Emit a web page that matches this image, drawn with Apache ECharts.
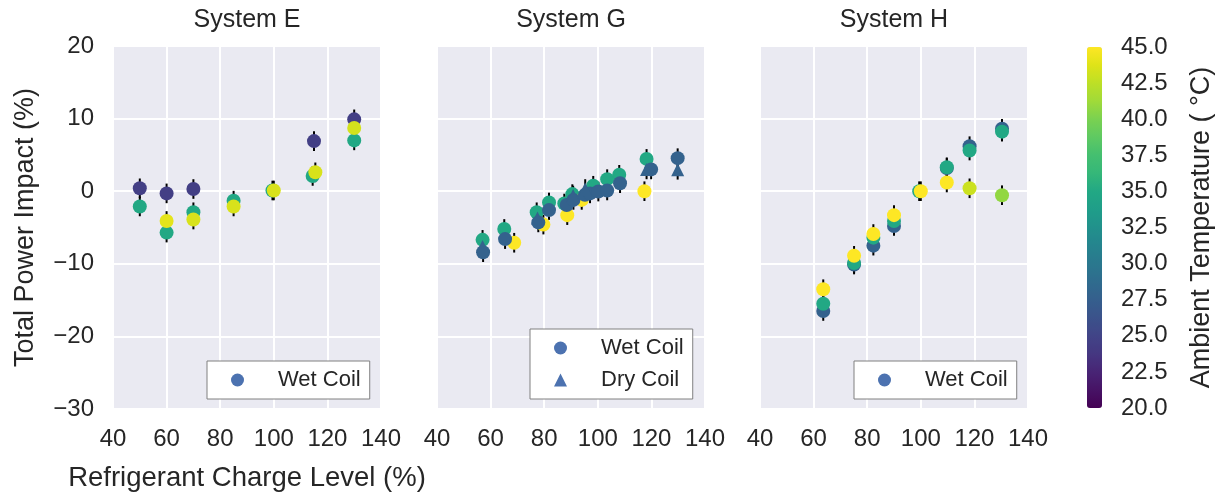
<!DOCTYPE html>
<html>
<head>
<meta charset="utf-8">
<script src="https://cdn.jsdelivr.net/npm/echarts@6/dist/echarts.min.js"></script>
<style>
html,body{margin:0;padding:0;background:#fff;}
#chart{width:1217px;height:493px;}
</style>
</head>
<body>
<div id="chart"></div>
<script>
// ---- data: [charge level %, total power impact %, ambient temperature °C] ----
const panelTitles = ['System E', 'System G', 'System H'];
const xTicks = [40, 60, 80, 100, 120, 140];
const yTicks = [-30, -20, -10, 0, 10, 20];
const cbTicks = [20, 22.5, 25, 27.5, 30, 32.5, 35, 37.5, 40, 42.5, 45];
const ERR = 1.35; // error bar half-length

const sysE_wet = [
  [50, 0.4, 24.5], [60, -0.3, 24.5], [70, 0.3, 24.5], [115, 6.9, 24.5], [130, 9.9, 24.5],
  [50, -2.1, 35], [60, -5.7, 35], [70, -2.9, 35], [85, -1.3, 35], [99.5, 0.1, 35], [114.5, 2.1, 35], [130, 7.0, 35],
  [60, -4.1, 44], [70, -3.9, 43.5], [85, -2.1, 43.5], [100, 0.1, 43.5], [115.5, 2.6, 43.5], [130, 8.7, 43.3]
];
const sysG_wet = [
  [57, -6.7, 35], [65.1, -5.2, 35], [77.2, -2.9, 35], [81.8, -1.55, 35], [87.5, -1.7, 35], [90.5, -0.4, 35],
  [98.3, 0.75, 35], [103.5, 1.66, 35], [108, 2.26, 35], [118.2, 4.45, 35],
  [68.8, -7.1, 45], [79.7, -4.6, 45], [88.6, -3.3, 45], [94, -1.2, 45], [117.4, 0.0, 45],
  [57.2, -8.4, 27.8], [65.4, -6.6, 27.8], [77.8, -4.3, 27.8], [81.8, -2.6, 27.8], [88.4, -1.9, 27.8],
  [90.9, -1.2, 27.8], [95.2, -0.5, 27.8], [97.1, -0.3, 27.8], [100.2, -0.05, 27.8], [103.5, 0.1, 27.8],
  [108.3, 1.1, 27.8], [119.9, 3.0, 27.8], [129.8, 4.55, 27.8]
];
const sysG_dry = [
  [57, -7.6, 27.8], [77.5, -3.7, 27.8], [90.8, -0.6, 27.8], [95.3, 0.3, 27.8], [118.2, 3.0, 27.8], [129.8, 2.95, 27.8]
];
const sysH_wet = [
  [63.6, -16.5, 27.8], [75.1, -10.1, 27.8], [82.3, -7.5, 27.8], [90, -4.8, 27.8], [109.7, 3.2, 27.8], [118.2, 6.2, 27.8], [130.3, 8.6, 27.8],
  [63.6, -15.5, 35], [75.1, -9.9, 35], [82.3, -6.4, 35], [90, -4.1, 35], [99.4, 0.0, 35], [109.7, 3.3, 35], [118.2, 5.6, 35], [130.3, 8.2, 35],
  [63.6, -13.5, 45], [75.1, -8.9, 45], [82.3, -5.9, 45], [90, -3.3, 45], [100, 0.0, 45], [109.7, 1.2, 45], [118.2, 0.4, 43], [130.3, -0.55, 40.8]
];

const viridis = ['#440154','#471365','#482475','#453781','#414487','#3b528b','#355f8d','#2f6c8e','#2a788e',
  '#25848e','#21918c','#1f9e89','#22a884','#35b779','#44bf70','#5ec962','#7ad151','#a0da39','#bddf26','#dfe318','#fde725'];

// ---- layout ----
const FONT = '"Liberation Sans", Arial, sans-serif';
const TXT = '#262626';
const grids = [
  {left: 113, top: 46, width: 268, height: 363},
  {left: 437, top: 46, width: 268, height: 363},
  {left: 760, top: 46, width: 268, height: 363}
];
const minus = v => (v < 0 ? '\u2212' + Math.abs(v) : String(v));

const gridOpts = grids.map(g => Object.assign({show: true, backgroundColor: '#eaeaf2', borderWidth: 0,
  containLabel: false, outerBoundsMode: 'none'}, g));
gridOpts.push({left: 1087, top: 47, width: 15, height: 361, show: false, containLabel: false, outerBoundsMode: 'none'});

const xAxes = grids.map((g, i) => ({
  type: 'value', gridIndex: i, min: xTicks[0], max: xTicks[xTicks.length - 1], interval: 20,
  axisLine: {show: false}, axisTick: {show: false},
  splitLine: {show: true, lineStyle: {color: '#ffffff', width: 2}},
  axisLabel: {color: TXT, fontSize: 24, fontFamily: FONT, margin: 18},
  name: i === 0 ? 'Refrigerant Charge Level (%)' : '', nameLocation: 'middle', nameGap: 55,
  nameTextStyle: {color: TXT, fontSize: 27.5, fontFamily: FONT}
}));
xAxes.push({type: 'value', gridIndex: 3, show: false, min: 0, max: 1});

const yAxes = grids.map((g, i) => ({
  type: 'value', gridIndex: i, min: yTicks[0], max: yTicks[yTicks.length - 1], interval: 10,
  axisLine: {show: false}, axisTick: {show: false},
  splitLine: {show: true, lineStyle: {color: '#ffffff', width: 2}},
  axisLabel: {show: i === 0, color: TXT, fontSize: 24, fontFamily: FONT, margin: 19, formatter: minus},
  name: i === 0 ? 'Total Power Impact (%)' : '', nameLocation: 'middle', nameGap: 74, nameRotate: 90,
  nameTextStyle: {color: TXT, fontSize: 27, fontFamily: FONT}
}));
yAxes.push({
  type: 'value', gridIndex: 3, position: 'right', min: cbTicks[0], max: cbTicks[cbTicks.length - 1], interval: 2.5,
  axisLine: {show: false}, axisTick: {show: false}, splitLine: {show: false},
  axisLabel: {color: TXT, fontSize: 24, fontFamily: FONT, margin: 19, formatter: v => v.toFixed(1)},
  name: 'Ambient Temperature ( \u00b0C)', nameLocation: 'middle', nameGap: 86, nameRotate: 90,
  nameTextStyle: {color: TXT, fontSize: 27, fontFamily: FONT}
});

function errBars(data, idx) {
  return {
    type: 'custom', xAxisIndex: idx, yAxisIndex: idx, data: data, z: 1, silent: true,
    renderItem: function (params, api) {
      const x = api.value(0), y = api.value(1);
      const p1 = api.coord([x, y - ERR]);
      const p2 = api.coord([x, y + ERR]);
      return {type: 'line', shape: {x1: p1[0], y1: p1[1], x2: p2[0], y2: p2[1]},
        style: {stroke: '#000', lineWidth: 2}};
    }
  };
}
function scatter(name, data, idx, symbol) {
  return {type: 'scatter', name: name, xAxisIndex: idx, yAxisIndex: idx, data: data, z: 3,
    symbol: symbol, symbolSize: symbol === 'triangle' ? 13 : 14,
    itemStyle: {color: '#4c72b0', opacity: 1}};
}

const series = [
  scatter('Wet Coil', sysE_wet, 0, 'circle'),
  scatter('Wet Coil', sysG_wet, 1, 'circle'),
  scatter('Dry Coil', sysG_dry, 1, 'triangle'),
  scatter('Wet Coil', sysH_wet, 2, 'circle'),
  errBars(sysE_wet, 0),
  errBars(sysG_wet.concat(sysG_dry), 1),
  errBars(sysH_wet, 2)
];

const legendBase = {
  orient: 'vertical', backgroundColor: '#ffffff', borderColor: '#808080', borderWidth: 1, borderRadius: 0,
  itemWidth: 13, itemHeight: 13, itemGap: 10, selectedMode: false,
  textStyle: {color: TXT, fontSize: 22, fontFamily: FONT, padding: [0, 0, 0, 29]}
};
const legends = [
  Object.assign({}, legendBase, {left: 207, top: 361, padding: [8, 9, 8, 24],
    data: [{name: 'Wet Coil', icon: 'circle'}]}),
  Object.assign({}, legendBase, {left: 530, top: 329, padding: [8, 9, 8, 24],
    data: [{name: 'Wet Coil', icon: 'circle'}, {name: 'Dry Coil', icon: 'triangle'}]}),
  Object.assign({}, legendBase, {left: 854, top: 361, padding: [8, 9, 8, 24],
    data: [{name: 'Wet Coil', icon: 'circle'}]})
];

const titles = grids.map((g, i) => ({
  text: panelTitles[i], left: g.left + g.width / 2, top: 8, textAlign: 'center', padding: 0,
  textStyle: {color: TXT, fontSize: 25, fontWeight: 'normal', fontFamily: FONT}
}));

const option = {
  animation: false,
  backgroundColor: '#ffffff',
  title: titles,
  grid: gridOpts,
  xAxis: xAxes,
  yAxis: yAxes,
  legend: legends,
  visualMap: {
    type: 'continuous', min: cbTicks[0], max: cbTicks[cbTicks.length - 1], dimension: 2,
    seriesIndex: [0, 1, 2, 3], calculable: false, hoverLink: false, realtime: false,
    left: 1087, top: 47, itemWidth: 15, itemHeight: 361, padding: 0, text: null, showLabel: false,
    inRange: {color: viridis}
  },
  series: series
};

const chart = echarts.init(document.getElementById('chart'), null, {renderer: 'canvas'});
chart.setOption(option);
</script>
</body>
</html>
